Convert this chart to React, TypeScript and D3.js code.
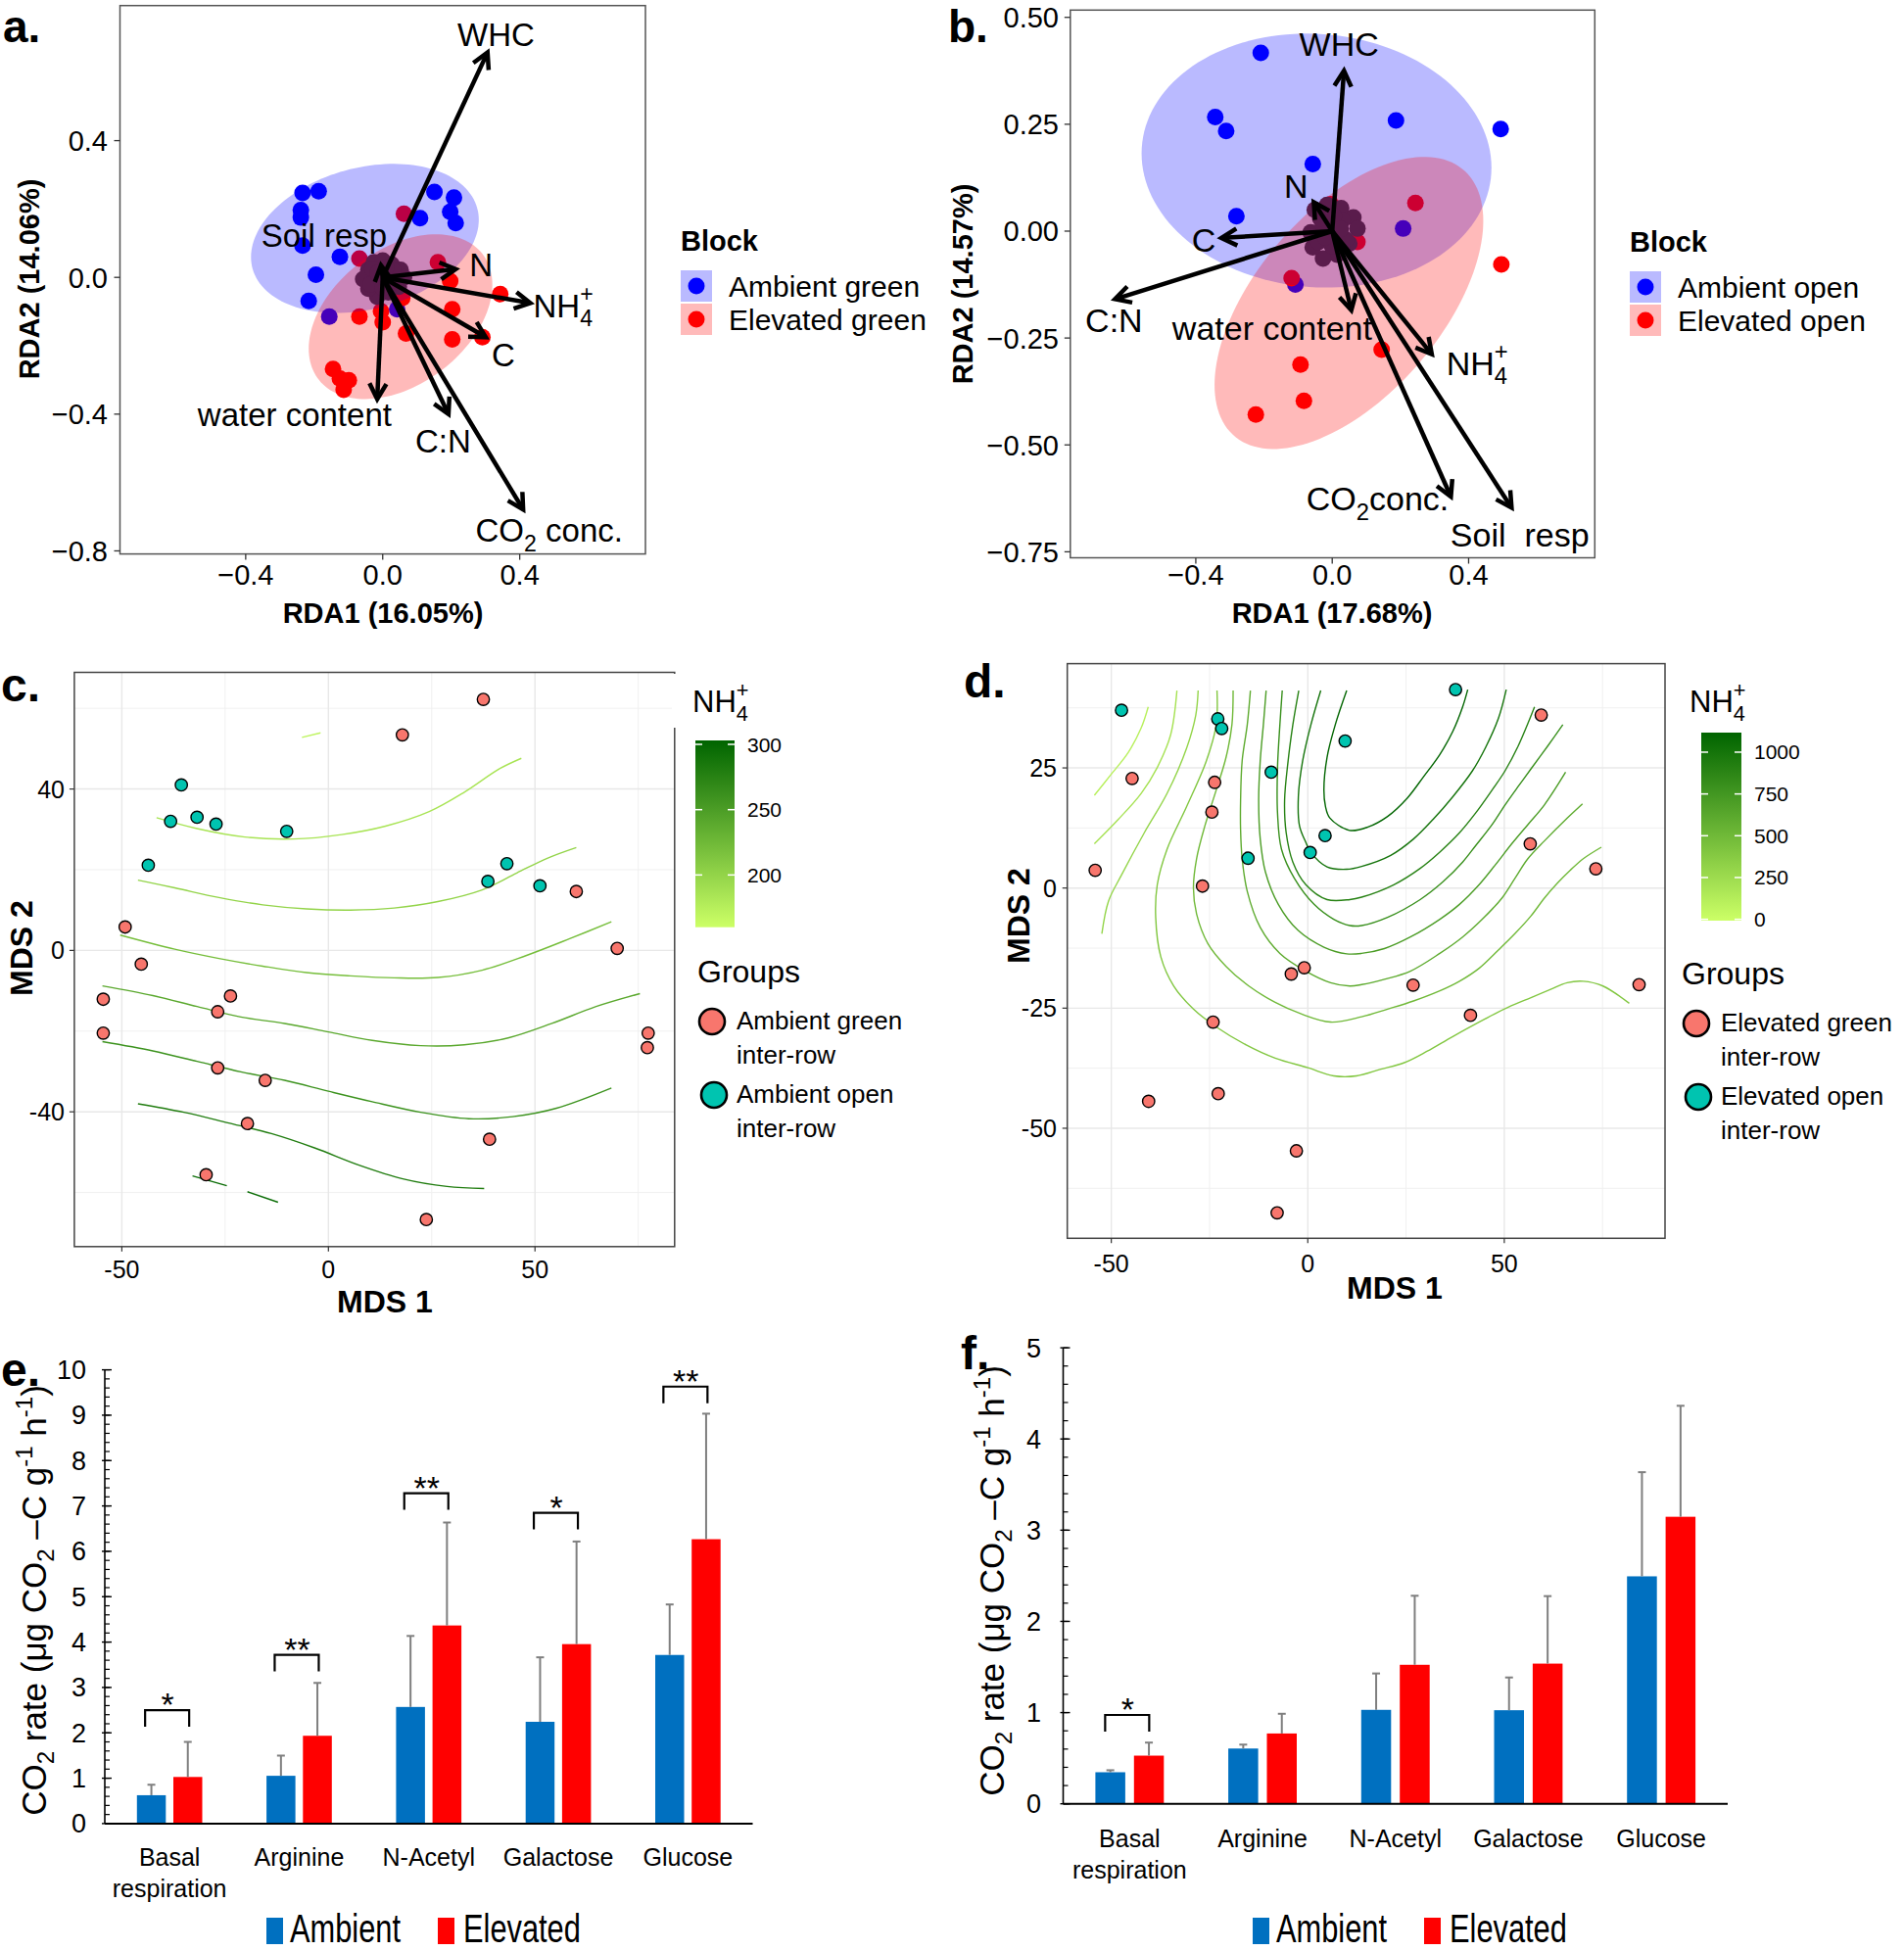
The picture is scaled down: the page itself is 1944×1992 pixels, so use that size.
import React from 'react';
import * as d3 from 'd3';

const FONT = "'Liberation Sans', Arial, Helvetica, sans-serif";
type Pt = [number, number];

// ---------------- Panel a (RDA, green) ----------------
const aAmbient: Pt[] = [
  [-0.234, 0.247], [-0.187, 0.252], [-0.239, 0.197], [-0.239, 0.175], [-0.234, 0.093],
  [-0.125, 0.060], [-0.195, 0.008], [-0.216, -0.069], [0.151, 0.250], [0.208, 0.233],
  [0.197, 0.192], [0.213, 0.159], [0.109, 0.173], [-0.156, -0.115], [0.042, -0.093],
];
const aElevated: Pt[] = [
  [0.062, 0.186], [-0.068, 0.055], [0.161, 0.044], [0.197, -0.011], [0.343, -0.049],
  [0.203, -0.093], [-0.068, -0.115], [-0.005, -0.099], [0, -0.131], [0.057, -0.060],
  [0.068, -0.164], [0.203, -0.181], [0.291, -0.175], [-0.145, -0.268], [-0.125, -0.296],
  [-0.099, -0.301], [-0.114, -0.329],
];
const aCentre: Pt[] = [
  [-0.042, 0.022], [-0.026, 0.044], [0, 0.049], [0.026, 0.038], [0.052, 0.022], [0.062, 0],
  [0.047, -0.027], [0.016, -0.044], [-0.016, -0.057], [-0.042, -0.033], [-0.057, -0.005],
  [0, 0], [0.02, 0.01], [-0.02, -0.01], [0.03, 0.02], [-0.03, 0.025], [0.035, -0.015],
  [-0.035, -0.02], [0, -0.03], [0.01, 0.03], [-0.015, 0.012], [0.015, -0.012],
];
const aEllipses = [
  { cx: -0.052, cy: 0.114, sx: 0.3325, sy: 0.218, r: 0.25, color: '#0000ff' },
  { cx: 0.052, cy: -0.115, sx: 0.268, sy: 0.241, r: 0.388, color: '#ff0000' },
];
const aArrows = [
  { label: 'WHC', x: 0.306, y: 0.658, lx: 0.331, ly: 0.712 },
  { label: 'Soil resp', x: -0.005, y: 0.035, lx: -0.171, ly: 0.123 },
  { label: 'N', x: 0.213, y: 0.024, lx: 0.287, ly: 0.038 },
  { label: 'NH4+', x: 0.431, y: -0.075, lx: 0.527, ly: -0.082 },
  { label: 'C', x: 0.301, y: -0.175, lx: 0.352, ly: -0.225 },
  { label: 'C:N', x: 0.192, y: -0.40, lx: 0.176, ly: -0.477 },
  { label: 'CO2 conc.', x: 0.410, y: -0.679, lx: 0.486, ly: -0.740 },
  { label: 'water content', x: -0.016, y: -0.356, lx: -0.257, ly: -0.40 },
];
const aXTicks = [-0.4, 0, 0.4];
const aYTicks = [0.4, 0, -0.4, -0.8];

// ---------------- Panel b (RDA, open) ----------------
const bAmbient: Pt[] = [
  [-0.2095, 0.417], [-0.343, 0.267], [-0.311, 0.234], [-0.057, 0.157], [-0.281, 0.035],
  [0.187, 0.259], [0.494, 0.239], [0.208, 0.006], [-0.108, -0.125],
];
const bElevated: Pt[] = [
  [-0.004, 0.063], [0.244, 0.066], [0.074, -0.025], [-0.119, -0.110], [0.496, -0.078],
  [0.145, -0.277], [-0.093, -0.312], [-0.083, -0.397], [-0.224, -0.429],
];
const bCentre: Pt[] = [
  [-0.051, 0.050], [-0.015, 0.061], [0.026, 0.054], [0.062, 0.032], [0.074, 0.006],
  [0.050, -0.029], [0.014, -0.055], [-0.027, -0.064], [-0.057, -0.038], [-0.063, -0.003],
  [-0.027, 0.015], [0.014, -0.003], [0.03, 0.025], [-0.035, 0.03], [0.04, -0.02],
  [-0.04, -0.025], [0, -0.035], [0.005, 0.035], [-0.02, -0.015], [0.025, 0.005],
];
const bEllipses = [
  { cx: -0.046, cy: 0.165, sx: 0.513, sy: 0.297, r: -0.056, color: '#0000ff' },
  { cx: 0.049, cy: -0.168, sx: 0.394, sy: 0.3416, r: 0.5617, color: '#ff0000' },
];
const bArrows = [
  { label: 'WHC', x: 0.0345, y: 0.375, lx: 0.020, ly: 0.438 },
  { label: 'N', x: -0.054, y: 0.0675, lx: -0.106, ly: 0.107 },
  { label: 'C', x: -0.325, y: -0.016, lx: -0.377, ly: -0.020 },
  { label: 'C:N', x: -0.637, y: -0.159, lx: -0.640, ly: -0.209 },
  { label: 'water content', x: 0.056, y: -0.185, lx: -0.176, ly: -0.226 },
  { label: 'NH4+', x: 0.292, y: -0.288, lx: 0.425, ly: -0.308 },
  { label: 'CO2conc.', x: 0.348, y: -0.621, lx: 0.133, ly: -0.625 },
  { label: 'Soil  resp', x: 0.526, y: -0.647, lx: 0.55, ly: -0.709 },
];
const bXTicks = [-0.4, 0, 0.4];
const bYTicks = [0.5, 0.25, 0, -0.25, -0.5, -0.75];

// ---------------- Panel c (MDS, ambient) ----------------
const cGreen: Pt[] = [
  [37.5, 62.2], [17.9, 53.4], [-49.2, 5.8], [-45.3, -3.4], [-54.5, -12.1], [-54.5, -20.5],
  [-23.7, -11.3], [-26.8, -15.2], [-26.8, -29.1], [-15.3, -32.2], [-19.6, -42.9], [-29.6, -55.6],
  [23.7, -66.7], [39.0, -46.8], [60.0, 14.6], [69.9, 0.5], [77.4, -20.5], [77.2, -24.1],
];
const cOpen: Pt[] = [
  [-35.6, 41.0], [-38.2, 32.0], [-31.8, 33.0], [-27.2, 31.3], [-10.1, 29.5], [-43.6, 21.1],
  [38.6, 17.1], [43.2, 21.5], [51.2, 16.0],
];
const cContours: { level: number; pts: Pt[] }[] = [
  { level: 170, pts: [[-6.4, 52.8], [-1.9, 53.9]] },
  { level: 185, pts: [[-41.6, 32.9], [-31.8, 30.2], [-20.2, 28.1], [-8.5, 27.6], [3.2, 28.7], [13.8, 30.8], [24.4, 34.4], [32.9, 39.2], [41.4, 45.0], [46.7, 47.6]] },
  { level: 200, pts: [[-46.1, 17.4], [-37.2, 15.5], [-26.5, 13.1], [-15.9, 11.3], [-5.3, 10.3], [5.3, 10.0], [15.9, 10.5], [26.5, 12.1], [37.2, 15.0], [45.6, 19.2], [53.1, 22.9], [60.0, 25.5]] },
  { level: 220, pts: [[-50.4, 3.8], [-37.2, 0.3], [-26.5, -2.0], [-15.9, -3.9], [-5.3, -5.5], [5.3, -6.3], [15.9, -6.8], [26.5, -6.7], [37.2, -4.9], [47.8, -1.3], [58.4, 2.9], [68.5, 7.1]] },
  { level: 240, pts: [[-54.7, -8.8], [-42.5, -11.2], [-31.8, -13.9], [-21.2, -16.5], [-10.6, -18.1], [0, -20.2], [10.6, -22.3], [22.3, -23.6], [32.9, -23.4], [43.5, -21.7], [54.1, -18.1], [64.8, -13.9], [75.4, -10.7]] },
  { level: 260, pts: [[-54.7, -22.6], [-42.5, -24.9], [-31.8, -27.5], [-21.2, -30.1], [-10.6, -32.2], [0, -34.9], [10.6, -37.5], [22.3, -40.1], [34.0, -41.7], [44.6, -41.2], [55.2, -39.1], [68.5, -34.1]] },
  { level: 280, pts: [[-46.1, -38.0], [-35.0, -40.1], [-24.4, -42.7], [-13.8, -45.4], [-3.2, -49.0], [7.4, -53.2], [18.0, -56.6], [28.7, -58.5], [37.7, -59.0]] },
  { level: 295, pts: [[-32.9, -55.9], [-24.6, -58.3]] },
  { level: 295, pts: [[-19.6, -59.8], [-12.2, -62.4]] },
];
const cLegendTicks = [300, 250, 200];

// ---------------- Panel d (MDS, elevated) ----------------
const dGreen: Pt[] = [
  [-44.7, 22.8], [-23.7, 22.0], [-24.4, 15.8], [-54.1, 3.7], [-26.8, 0.4], [-4.2, -17.9],
  [-0.9, -16.6], [26.8, -20.2], [41.4, -26.5], [-24.1, -27.9], [-40.5, -44.4], [-22.8, -42.8],
  [-2.9, -54.7], [-7.8, -67.6], [56.6, 9.2], [59.4, 36.0], [73.3, 4.0], [84.3, -20.1],
];
const dOpen: Pt[] = [
  [-47.4, 37.0], [-22.9, 35.2], [-21.9, 33.2], [9.5, 30.6], [-9.3, 24.1], [37.6, 41.3],
  [4.4, 10.9], [0.6, 7.4], [-15.2, 6.2],
];
const dContours: { level: number; pts: Pt[] }[] = [
  { level: 100, pts: [[-54.3, 19.3], [-49.9, 23.8], [-45.7, 28.2], [-42.4, 33.3], [-40.6, 37.7]] },
  { level: 200, pts: [[-54.3, 9.2], [-48.2, 14.3], [-42.4, 19.7], [-38.3, 25.1], [-34.9, 31.9], [-33.3, 41.1]] },
  { level: 300, pts: [[-52.4, -9.5], [-50.7, -2.7], [-47.4, 2.7], [-41.6, 11.5], [-35.8, 19.7], [-30.8, 29.2], [-28.5, 36.0], [-27.9, 41.1]] },
  { level: 400, pts: [[-23.1, 41.1], [-23.3, 34.0], [-25.8, 26.5], [-30.8, 17.0], [-35.8, 8.1], [-38.3, 0.7], [-38.7, -6.1], [-37.4, -14.3], [-34.1, -20.4], [-29.1, -25.2], [-23.3, -28.9], [-15.8, -32.6], [-8.3, -35.4], [0, -37.4], [6.6, -39.1], [12.4, -39.1], [18.6, -37.7], [24.4, -36.4], [30.3, -34.0], [36.9, -30.9], [45.2, -27.2], [51.0, -24.8], [56.8, -22.8], [61.8, -21.1], [66.0, -19.7], [70.1, -19.4], [75.1, -20.4], [81.8, -24.0]] },
  { level: 500, pts: [[-19.0, 41.1], [-19.3, 34.0], [-20.8, 27.2], [-23.3, 20.4], [-26.2, 12.9], [-28.3, 6.1], [-29.1, 0], [-28.3, -5.4], [-25.4, -11.6], [-20.8, -16.3], [-15.0, -20.4], [-8.3, -23.8], [-1.7, -26.2], [5.8, -27.9], [13.7, -26.8], [20.3, -25.2], [26.9, -23.5], [33.6, -21.4], [38.6, -19.4], [43.6, -16.7], [48.5, -12.9], [52.7, -9.5], [56.8, -5.8], [60.2, -2.1], [63.5, 1.0], [66.8, 3.7], [70.1, 6.1], [74.7, 8.5]] },
  { level: 600, pts: [[-14.6, 41.1], [-15.4, 34.0], [-16.7, 26.5], [-17.1, 18.3], [-17.1, 12.1], [-16.7, 6.1], [-15.4, -0.7], [-12.1, -8.2], [-7.1, -13.6], [-0.5, -17.3], [5.8, -19.7], [10.7, -20.4], [13.7, -20.1], [19.5, -19.0], [26.1, -17.3], [33.6, -13.6], [39.4, -10.2], [44.4, -6.5], [49.4, -2.1], [52.7, 2.0], [56.0, 6.1], [60.2, 9.8], [65.2, 13.9], [69.9, 17.5]] },
  { level: 700, pts: [[-10.6, 41.1], [-11.3, 34.0], [-12.1, 26.5], [-12.5, 18.3], [-12.1, 10.2], [-10.8, 3.4], [-7.5, -3.4], [-2.5, -8.8], [4.1, -12.3], [9.9, -13.7], [13.7, -13.6], [19.5, -12.6], [26.1, -10.2], [33.6, -6.5], [38.6, -3.4], [43.6, 0.7], [47.7, 4.8], [51.9, 9.2], [56.0, 13.2], [60.2, 17.3], [65.6, 24.1]] },
  { level: 800, pts: [[-6.5, 41.1], [-7.1, 34.0], [-7.7, 25.1], [-7.7, 15.6], [-6.7, 8.1], [-3.4, 2.0], [1.6, -3.4], [6.6, -6.5], [10.7, -7.8], [13.7, -7.8], [20.3, -6.1], [28.6, -2.4], [34.4, 1.3], [39.4, 5.4], [42.7, 8.8], [46.9, 13.2], [50.2, 17.3], [53.5, 21.1], [56.8, 24.8], [61.0, 29.5], [64.9, 34.0]] },
  { level: 900, pts: [[-2.3, 41.1], [-3.8, 34.0], [-5.0, 26.5], [-5.9, 18.3], [-5.5, 11.5], [-3.8, 5.4], [-0.5, 0.7], [4.9, -2.4], [10.7, -2.4], [13.7, -1.9], [21.9, 0.7], [28.6, 4.1], [33.6, 7.5], [38.6, 11.5], [42.7, 15.6], [46.9, 20.4], [50.2, 24.4], [53.5, 29.5], [57.7, 37.7]] },
  { level: 1000, pts: [[3.3, 41.1], [0.8, 34.0], [-1.3, 26.5], [-2.4, 19.0], [-2.1, 12.9], [-0.5, 9.5], [0.8, 7.4], [4.9, 4.4], [9.9, 3.9], [13.7, 4.5], [21.1, 6.8], [26.9, 10.2], [31.9, 14.3], [36.9, 19.0], [41.9, 24.4], [45.2, 29.2], [48.5, 35.3], [50.5, 41.3]] },
  { level: 1100, pts: [[9.9, 41.1], [7.0, 34.0], [4.9, 27.2], [4.1, 20.4], [4.5, 17.0], [5.6, 14.6], [10.6, 12.0], [15.3, 12.7], [20.3, 14.9], [25.3, 18.7], [29.4, 23.1], [33.6, 27.8], [36.9, 32.6], [39.4, 37.7], [40.7, 41.3]] },
];
const dLegendTicks = [1000, 750, 500, 250, 0];

// ---------------- Panels e / f (bars) ----------------
const categories = ['Basal respiration', 'Arginine', 'N-Acetyl', 'Galactose', 'Glucose'];
const eAmbient = [0.625, 1.053, 2.57, 2.243, 3.716];
const eAmbientSD = [0.231, 0.445, 1.565, 1.421, 1.113];
const eElevated = [1.027, 1.935, 4.366, 3.955, 6.267];
const eElevatedSD = [0.773, 1.165, 2.269, 2.261, 2.766];
const eSig = ['*', '**', '**', '*', '**'];
const eSigTop = [2.5, 3.72, 7.28, 6.85, 9.63];

const fAmbient = [0.346, 0.606, 1.030, 1.026, 2.494];
const fAmbientSD = [0.022, 0.043, 0.399, 0.359, 1.142];
const fElevated = [0.528, 0.771, 1.524, 1.537, 3.147];
const fElevatedSD = [0.143, 0.216, 0.757, 0.740, 1.217];
const fSig = ['*', '', '', '', ''];
const fSigTop = [0.974, 0, 0, 0, 0];

const SALMON = '#F8766D';
const TEAL = '#00C4B0';
const BLUE_BAR = '#0070C0';
const RED_BAR = '#FF0000';

// ---------------- helpers ----------------
function ellipsePath(e: any, xs: any, ys: any) {
  const pts: Pt[] = d3.range(0, 145).map((i) => {
    const t = (i / 144) * 2 * Math.PI;
    const x = e.cx + e.sx * Math.cos(t);
    const y = e.cy + e.sy * (e.r * Math.cos(t) + Math.sqrt(1 - e.r * e.r) * Math.sin(t));
    return [xs(x), ys(y)] as Pt;
  });
  return (d3.line()(pts) || '') + 'Z';
}

function RichLabel({ text, x, y, size, anchor = 'middle', weight = 'normal' }: any) {
  const sub = size * 0.7;
  if (text === 'NH4+') {
    return (
      <text x={x} y={y} fontSize={size} textAnchor={anchor} fontWeight={weight}>
        NH<tspan fontSize={sub} dy={size * 0.28}>4</tspan>
        <tspan fontSize={sub} dx={-sub * 0.556} dy={-size * 0.75}>+</tspan>
      </text>
    );
  }
  if (text.startsWith('CO2')) {
    return (
      <text x={x} y={y} fontSize={size} textAnchor={anchor} style={{ whiteSpace: 'pre' }}>
        CO<tspan fontSize={sub} dy={size * 0.28}>2</tspan>
        <tspan dy={-size * 0.28}>{text.slice(3)}</tspan>
      </text>
    );
  }
  return (
    <text x={x} y={y} fontSize={size} textAnchor={anchor} style={{ whiteSpace: 'pre' }}>
      {text}
    </text>
  );
}

function RdaPanel(props: any) {
  const { xs, ys, amb, elev, centre, ells, arrows, labelSize, xTicks, yTicks, xFmt, yFmt, yLabelRight, tickSize } = props;
  const [xl, xr] = xs.range();
  const [yb, yt] = ys.range();
  const ox = xs(0);
  const oy = ys(0);
  return (
    <g>
      {amb.map((p: Pt, i: number) => (
        <circle key={'am' + i} cx={xs(p[0])} cy={ys(p[1])} r={8.5} fill="#0000ff" />
      ))}
      {elev.map((p: Pt, i: number) => (
        <circle key={'el' + i} cx={xs(p[0])} cy={ys(p[1])} r={8.5} fill="#ff0000" />
      ))}
      {ells.map((e: any, i: number) => (
        <path key={'e' + i} d={ellipsePath(e, xs, ys)} fill={e.color} fillOpacity={0.27} />
      ))}
      {centre.map((p: Pt, i: number) => (
        <circle key={'c' + i} cx={xs(p[0])} cy={ys(p[1])} r={8.5} fill="#5a1c4c" />
      ))}
      {arrows.map((a: any, i: number) => {
        const tx = xs(a.x);
        const ty = ys(a.y);
        const ang = Math.atan2(ty - oy, tx - ox);
        const L = 18;
        const th = 0.5;
        const p1 = [tx - L * Math.cos(ang - th), ty - L * Math.sin(ang - th)];
        const p2 = [tx - L * Math.cos(ang + th), ty - L * Math.sin(ang + th)];
        const ex = tx - 2 * Math.cos(ang);
        const ey = ty - 2 * Math.sin(ang);
        return (
          <g key={'ar' + i}>
            <line x1={ox} y1={oy} x2={ex} y2={ey} stroke="#000" strokeWidth={4.5} />
            <polyline points={`${p1[0]},${p1[1]} ${tx},${ty} ${p2[0]},${p2[1]}`} fill="none" stroke="#000" strokeWidth={4.5} />
          </g>
        );
      })}
      {arrows.map((a: any, i: number) => (
        <RichLabel key={'lb' + i} text={a.label} x={xs(a.lx)} y={ys(a.ly) + labelSize * 0.36} size={labelSize} />
      ))}
      <rect x={xl} y={yt} width={xr - xl} height={yb - yt} fill="none" stroke="#555" strokeWidth={1.5} />
      {xTicks.map((t: number) => (
        <g key={'xt' + t}>
          <line x1={xs(t)} x2={xs(t)} y1={yb} y2={yb + 6} stroke="#333" strokeWidth={1.3} />
          <text x={xs(t)} y={597} fontSize={tickSize} textAnchor="middle">{xFmt(t)}</text>
        </g>
      ))}
      {yTicks.map((t: number) => (
        <g key={'yt' + t}>
          <line x1={xl - 6} x2={xl} y1={ys(t)} y2={ys(t)} stroke="#333" strokeWidth={1.3} />
          <text x={yLabelRight} y={ys(t) + tickSize * 0.36} fontSize={tickSize} textAnchor="end">{yFmt(t)}</text>
        </g>
      ))}
    </g>
  );
}

function MdsPanel(props: any) {
  const { xs, ys, xMajor, xMinor, yMajor, yMinor, contours, color, green, open, yLabelRight, xLabelY } = props;
  const [xl, xr] = xs.range();
  const [yb, yt] = ys.range();
  const line = d3.line<Pt>().x((p) => xs(p[0])).y((p) => ys(p[1])).curve(d3.curveCatmullRom.alpha(0.5));
  return (
    <g>
      {xMinor.map((t: number) => (
        <line key={'xm' + t} x1={xs(t)} x2={xs(t)} y1={yt} y2={yb} stroke="#f0f0f0" strokeWidth={1} />
      ))}
      {yMinor.map((t: number) => (
        <line key={'ym' + t} x1={xl} x2={xr} y1={ys(t)} y2={ys(t)} stroke="#f0f0f0" strokeWidth={1} />
      ))}
      {xMajor.map((t: number) => (
        <line key={'xM' + t} x1={xs(t)} x2={xs(t)} y1={yt} y2={yb} stroke="#e8e8e8" strokeWidth={1.4} />
      ))}
      {yMajor.map((t: number) => (
        <line key={'yM' + t} x1={xl} x2={xr} y1={ys(t)} y2={ys(t)} stroke="#e8e8e8" strokeWidth={1.4} />
      ))}
      {contours.map((c: any, i: number) => (
        <path key={'ct' + i} d={line(c.pts) || ''} fill="none" stroke={color(c.level)} strokeWidth={1.4} />
      ))}
      {green.map((p: Pt, i: number) => (
        <circle key={'g' + i} cx={xs(p[0])} cy={ys(p[1])} r={6.2} fill={SALMON} stroke="#000" strokeWidth={1.4} />
      ))}
      {open.map((p: Pt, i: number) => (
        <circle key={'o' + i} cx={xs(p[0])} cy={ys(p[1])} r={6.2} fill={TEAL} stroke="#000" strokeWidth={1.4} />
      ))}
      <rect x={xl} y={yt} width={xr - xl} height={yb - yt} fill="none" stroke="#444" strokeWidth={1.5} />
      {xMajor.map((t: number) => (
        <g key={'xt' + t}>
          <line x1={xs(t)} x2={xs(t)} y1={yb} y2={yb + 5} stroke="#333" strokeWidth={1.2} />
          <text x={xs(t)} y={xLabelY} fontSize={25} textAnchor="middle">{String(t)}</text>
        </g>
      ))}
      {yMajor.map((t: number) => (
        <g key={'yt' + t}>
          <line x1={xl - 5} x2={xl} y1={ys(t)} y2={ys(t)} stroke="#333" strokeWidth={1.2} />
          <text x={yLabelRight} y={ys(t) + 9} fontSize={25} textAnchor="end">{String(t)}</text>
        </g>
      ))}
    </g>
  );
}

function ColourLegend(props: any) {
  const { id, x, y, w, h, domain, color, ticks, titleX, titleY, groupX, groupY, labels } = props;
  const bs = d3.scaleLinear().domain(domain).range([y + h, y]);
  const stops = d3.range(0, 11).map((i) => domain[0] + ((domain[1] - domain[0]) * i) / 10);
  return (
    <g>
      <defs>
        <linearGradient id={id} x1="0" y1="1" x2="0" y2="0">
          {stops.map((v, i) => (
            <stop key={i} offset={`${i * 10}%`} stopColor={color(v)} />
          ))}
        </linearGradient>
      </defs>
      <RichLabel text="NH4+" x={titleX} y={titleY} size={31} anchor="start" />
      <rect x={x} y={y} width={w} height={h} fill={`url(#${id})`} />
      {ticks.map((t: number) => (
        <g key={t}>
          <line x1={x} x2={x + 7} y1={bs(t)} y2={bs(t)} stroke="#fff" strokeWidth={1.5} />
          <line x1={x + w - 7} x2={x + w} y1={bs(t)} y2={bs(t)} stroke="#fff" strokeWidth={1.5} />
          <text x={x + w + 13} y={bs(t) + 7.5} fontSize={21}>{t}</text>
        </g>
      ))}
      <text x={groupX} y={groupY} fontSize={32}>Groups</text>
      <circle cx={groupX + 15} cy={groupY + 40} r={13} fill={SALMON} stroke="#000" strokeWidth={2.6} />
      <text x={groupX + 40} y={groupY + 48} fontSize={26}>{labels[0]}</text>
      <text x={groupX + 40} y={groupY + 83} fontSize={26}>inter-row</text>
      <circle cx={groupX + 17} cy={groupY + 115} r={13} fill={TEAL} stroke="#000" strokeWidth={2.6} />
      <text x={groupX + 40} y={groupY + 123} fontSize={26}>{labels[1]}</text>
      <text x={groupX + 40} y={groupY + 158} fontSize={26}>inter-row</text>
    </g>
  );
}

function BlockLegend({ x, y, labels }: any) {
  return (
    <g>
      <text x={x} y={y} fontSize={29} fontWeight="bold">Block</text>
      <rect x={x} y={y + 20} width={32} height={32} fill="#0000ff" fillOpacity={0.27} />
      <circle cx={x + 16} cy={y + 36} r={8.5} fill="#0000ff" />
      <rect x={x} y={y + 54} width={32} height={32} fill="#ff0000" fillOpacity={0.27} />
      <circle cx={x + 16} cy={y + 70} r={8.5} fill="#ff0000" />
      <text x={x + 49} y={y + 47} fontSize={30}>{labels[0]}</text>
      <text x={x + 49} y={y + 81} fontSize={30}>{labels[1]}</text>
    </g>
  );
}

function CO2Title({ x, y }: any) {
  const s = 24;
  return (
    <text transform={`translate(${x},${y}) rotate(-90)`} textAnchor="middle" fontSize={35} style={{ whiteSpace: 'pre' }}>
      CO<tspan fontSize={s} dy={8}>2</tspan>
      <tspan dy={-8}>{' rate (μg CO'}</tspan>
      <tspan fontSize={s} dy={8}>2</tspan>
      <tspan dy={-8}>{' –C g'}</tspan>
      <tspan fontSize={s} dy={-14}>{'-1'}</tspan>
      <tspan dy={14}>{' h'}</tspan>
      <tspan fontSize={s} dy={-14}>{'-1'}</tspan>
      <tspan dy={14}>{')'}</tspan>
    </text>
  );
}

function BarPanel(props: any) {
  const { xRange, ys, yMax, amb, ambSD, elev, elevSD, sig, sigTop, barW, offset, labelRight, labelY, titleX, titleY, legendX, legendY } = props;
  const xb = d3.scaleBand<string>().domain(categories).range(xRange).padding(0);
  const x0 = xRange[0];
  const yBase = ys(0);
  const minor = d3.range(0, yMax * 5 + 1).map((i) => i / 5);
  const major = d3.range(0, yMax + 1);
  return (
    <g>
      {categories.map((c, i) => {
        const cx = (xb(c) as number) + xb.bandwidth() / 2;
        const ax = cx - offset;
        const ex = cx + offset;
        const aTop = ys(amb[i]);
        const eTop = ys(elev[i]);
        const aErr = ys(amb[i] + ambSD[i]);
        const eErr = ys(elev[i] + elevSD[i]);
        return (
          <g key={c}>
            <rect x={ax - barW / 2} y={aTop} width={barW} height={yBase - aTop} fill={BLUE_BAR} />
            <rect x={ex - barW / 2} y={eTop} width={barW} height={yBase - eTop} fill={RED_BAR} />
            <line x1={ax} x2={ax} y1={aTop} y2={aErr} stroke="#7f7f7f" strokeWidth={2} />
            <line x1={ax - 4} x2={ax + 4} y1={aErr} y2={aErr} stroke="#7f7f7f" strokeWidth={2} />
            <line x1={ex} x2={ex} y1={eTop} y2={eErr} stroke="#7f7f7f" strokeWidth={2} />
            <line x1={ex - 4} x2={ex + 4} y1={eErr} y2={eErr} stroke="#7f7f7f" strokeWidth={2} />
            {sig[i] ? (
              <g>
                <polyline
                  points={`${cx - 25},${ys(sigTop[i]) + 17} ${cx - 25},${ys(sigTop[i])} ${cx + 20},${ys(sigTop[i])} ${cx + 20},${ys(sigTop[i]) + 17}`}
                  fill="none" stroke="#000" strokeWidth={2.2}
                />
                <text x={cx - 2} y={ys(sigTop[i]) + 6} fontSize={34} textAnchor="middle">{sig[i]}</text>
              </g>
            ) : null}
            {c.split(' ').map((w, k) => (
              <text key={k} x={cx} y={labelY + k * 32} fontSize={25} textAnchor="middle">{w}</text>
            ))}
          </g>
        );
      })}
      <line x1={x0} x2={xRange[1]} y1={yBase} y2={yBase} stroke="#000" strokeWidth={2} />
      <line x1={x0} x2={x0} y1={yBase} y2={ys(yMax)} stroke="#000" strokeWidth={1.6} />
      {minor.map((t) => (
        <line key={'mn' + t} x1={x0} x2={x0 + 5} y1={ys(t)} y2={ys(t)} stroke="#000" strokeWidth={1.2} />
      ))}
      {major.map((t) => (
        <g key={'mj' + t}>
          <line x1={x0 - 3} x2={x0 + 7} y1={ys(t)} y2={ys(t)} stroke="#000" strokeWidth={1.4} />
          <text x={labelRight} y={ys(t) + 9.5} fontSize={27} textAnchor="end">{t}</text>
        </g>
      ))}
      <CO2Title x={titleX} y={titleY} />
      <rect x={legendX} y={legendY} width={17} height={27} fill={BLUE_BAR} />
      <text transform={`translate(${legendX + 24},${legendY + 25}) scale(0.77,1)`} fontSize={40}>Ambient</text>
      <rect x={legendX + 175} y={legendY} width={17} height={27} fill={RED_BAR} />
      <text transform={`translate(${legendX + 201},${legendY + 25}) scale(0.77,1)`} fontSize={40}>Elevated</text>
    </g>
  );
}

export default function App() {
  const axs = d3.scaleLinear().domain([-0.767, 0.767]).range([122.5, 659]);
  const ays = d3.scaleLinear().domain([-0.809, 0.795]).range([565.6, 5.7]);
  const bxs = d3.scaleLinear().domain([-0.768, 0.770]).range([1092.8, 1628.3]);
  const bys = d3.scaleLinear().domain([-0.764, 0.517]).range([569.5, 10.3]);
  const cxs = d3.scaleLinear().domain([-61.5, 83.8]).range([75.9, 688.8]);
  const cys = d3.scaleLinear().domain([-73.4, 68.9]).range([1272.8, 686.5]);
  const dxs = d3.scaleLinear().domain([-61.2, 90.9]).range([1089.7, 1700]);
  const dys = d3.scaleLinear().domain([-72.9, 46.7]).range([1264.3, 677.6]);
  const eys = d3.scaleLinear().domain([0, 10]).range([1861.9, 1398.6]);
  const fys = d3.scaleLinear().domain([0, 5]).range([1841.7, 1376.1]);

  const cDomain = [160, 303];
  const dDomain = [-8, 1117];
  const cColor = d3.scaleLinear<string>().domain(cDomain).range(['#ccff66', '#006400']).interpolate(d3.interpolateRgb);
  const dColor = d3.scaleLinear<string>().domain(dDomain).range(['#ccff66', '#006400']).interpolate(d3.interpolateRgb);

  const f1 = d3.format('.1f');
  const f2 = d3.format('.2f');

  return (
    <svg width={1944} height={1992} style={{ position: 'absolute', left: 0, top: 0 }} fontFamily={FONT}>
      <rect x={0} y={0} width={1944} height={1992} fill="#fff" />

      {/* panel a */}
      <RdaPanel xs={axs} ys={ays} amb={aAmbient} elev={aElevated} centre={aCentre} ells={aEllipses}
        arrows={aArrows} labelSize={33} xTicks={aXTicks} yTicks={aYTicks} xFmt={f1} yFmt={f1} yLabelRight={110} tickSize={29} />
      <text x={391} y={636} fontSize={29} fontWeight="bold" textAnchor="middle">RDA1 (16.05%)</text>
      <text transform="translate(40,285) rotate(-90)" fontSize={29} fontWeight="bold" textAnchor="middle">RDA2 (14.06%)</text>
      <BlockLegend x={695} y={256} labels={['Ambient green', 'Elevated green']} />
      <text x={3} y={43} fontSize={46} fontWeight="bold">a.</text>

      {/* panel b */}
      <RdaPanel xs={bxs} ys={bys} amb={bAmbient} elev={bElevated} centre={bCentre} ells={bEllipses}
        arrows={bArrows} labelSize={34} xTicks={bXTicks} yTicks={bYTicks} xFmt={f1} yFmt={f2}
        yLabelRight={1081} tickSize={29} />
      <text x={1360} y={636} fontSize={29} fontWeight="bold" textAnchor="middle">RDA1 (17.68%)</text>
      <text transform="translate(993,290) rotate(-90)" fontSize={29} fontWeight="bold" textAnchor="middle">RDA2 (14.57%)</text>
      <BlockLegend x={1664} y={257} labels={['Ambient open', 'Elevated open']} />
      <text x={968} y={43} fontSize={46} fontWeight="bold">b.</text>

      {/* panel c */}
      <MdsPanel xs={cxs} ys={cys} xMajor={[-50, 0, 50]} xMinor={[-25, 25, 75]} yMajor={[-40, 0, 40]} yMinor={[-60, -20, 20, 60]}
        contours={cContours} color={cColor} green={cGreen} open={cOpen} yLabelRight={66} xLabelY={1305} />
      <rect x={686} y={688} width={6} height={55} fill="#fff" />
      <text x={393} y={1340} fontSize={32} fontWeight="bold" textAnchor="middle">MDS 1</text>
      <text transform="translate(33,968) rotate(-90)" fontSize={32} fontWeight="bold" textAnchor="middle">MDS 2</text>
      <ColourLegend id="gradC" x={710} y={756} w={40} h={190.7} domain={cDomain} color={cColor} ticks={cLegendTicks}
        titleX={707} titleY={727} groupX={712} groupY={1003} labels={['Ambient green', 'Ambient open']} />
      <text x={1} y={716} fontSize={48} fontWeight="bold">c.</text>

      {/* panel d */}
      <MdsPanel xs={dxs} ys={dys} xMajor={[-50, 0, 50]} xMinor={[-25, 25, 75]} yMajor={[-50, -25, 0, 25]} yMinor={[-62.5, -37.5, -12.5, 12.5, 37.5]}
        contours={dContours} color={dColor} green={dGreen} open={dOpen} yLabelRight={1079} xLabelY={1299} />
      <text x={1424} y={1326} fontSize={32} fontWeight="bold" textAnchor="middle">MDS 1</text>
      <text transform="translate(1051,935) rotate(-90)" fontSize={32} fontWeight="bold" textAnchor="middle">MDS 2</text>
      <ColourLegend id="gradD" x={1737} y={748} w={41} h={192} domain={dDomain} color={dColor} ticks={dLegendTicks}
        titleX={1725} titleY={727} groupX={1717} groupY={1005} labels={['Elevated green', 'Elevated open']} />
      <text x={984} y={712} fontSize={48} fontWeight="bold">d.</text>

      {/* panel e */}
      <BarPanel xRange={[107, 768.5]} ys={eys} yMax={10} amb={eAmbient} ambSD={eAmbientSD} elev={eElevated} elevSD={eElevatedSD}
        sig={eSig} sigTop={eSigTop} barW={29.5} offset={18.6} labelRight={88} labelY={1905} titleX={47} titleY={1634}
        legendX={272} legendY={1958} />
      <text x={1} y={1415} fontSize={48} fontWeight="bold">e.</text>

      {/* panel f */}
      <BarPanel xRange={[1085.5, 1764]} ys={fys} yMax={5} amb={fAmbient} ambSD={fAmbientSD} elev={fElevated} elevSD={fElevatedSD}
        sig={fSig} sigTop={fSigTop} barW={30.5} offset={19.7} labelRight={1063} labelY={1886} titleX={1025} titleY={1614}
        legendX={1279} legendY={1958} />
      <text x={981} y={1398} fontSize={48} fontWeight="bold">f.</text>
    </svg>
  );
}
